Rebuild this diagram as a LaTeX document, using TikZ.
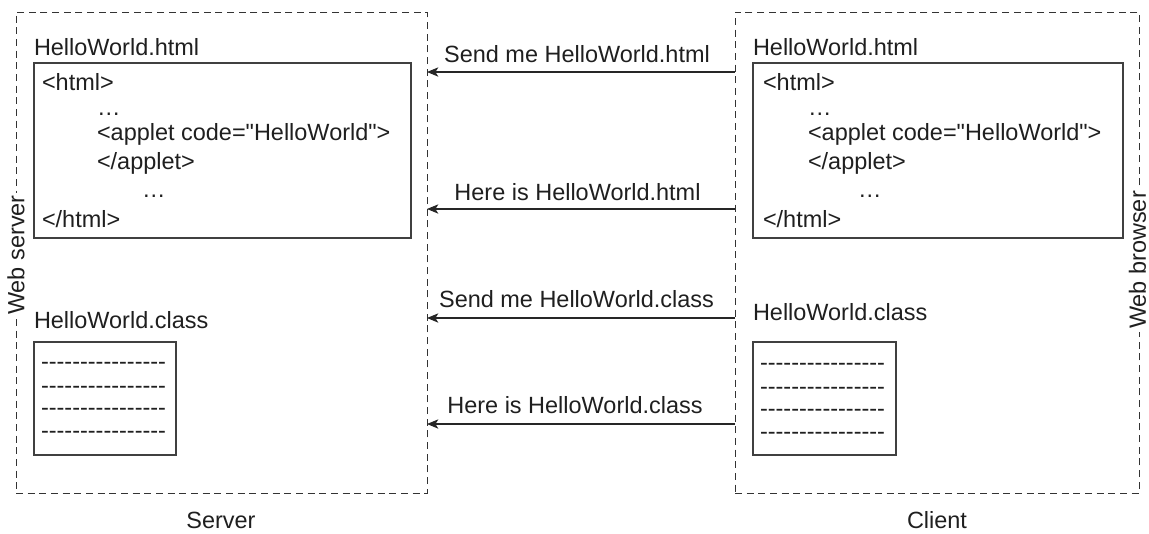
\documentclass[tikz,border=0pt]{standalone}
\usepackage{fontspec}
\setmainfont{Liberation Sans}[Ligatures=TeXOff]
\usetikzlibrary{arrows.meta}
\begin{document}
\begin{tikzpicture}[x=0.75pt,y=-0.75pt,
  every node/.style={font=\fontsize{17.6}{21}\selectfont, text=black!88, inner sep=0pt, outer sep=0pt},
  region/.style={draw=black!80, dash pattern=on 5.25pt off 3.5pt, line width=0.7pt},
  filebox/.style={draw=black!75, line width=0.9pt},
  msg/.style={draw=black!85, line width=0.8pt, -{Stealth[length=8.5pt,width=7pt,inset=2.2pt]}},
  txt/.style={anchor=base west},
  side/.style={rotate=90, fill=white, inner xsep=2pt, inner ysep=0.5pt}
]
\useasboundingbox (0,0) rectangle (1149,533);

% regions
\node[region, minimum width=308.25pt, minimum height=360.75pt] (srv) at (221.5,252.5) {};
\node[region, minimum width=303pt, minimum height=360.75pt] (cli) at (937,252.5) {};
\node[side] (wsl) at (16,255) {Web server};
\node[side] (wbl) at (1137.5,260) {Web browser};
\node[anchor=base] (srvlab) at (221,528.5) {Server};
\node[anchor=base] (clilab) at (937,528.5) {Client};

% server html file
\node[txt] (shtmlt) at (34,55) {HelloWorld.html};
\node[filebox, minimum width=282.75pt, minimum height=131.25pt] (shtml) at (222.5,150.5) {};
\node[txt] (s1) at (42,90) {<html>};
\node[txt] (s2) at (97,115) {\ldots};
\node[txt] (s3) at (97,140) {<applet code="HelloWorld">};
\node[txt] (s4) at (97,169) {</applet>};
\node[txt] (s5) at (142,197) {\ldots};
\node[txt] (s6) at (42,227) {</html>};

% client html file
\node[txt] (chtmlt) at (753,55) {HelloWorld.html};
\node[filebox, minimum width=277.5pt, minimum height=131.25pt] (chtml) at (938,150.5) {};
\node[txt] (c1) at (763,90) {<html>};
\node[txt] (c2) at (808,115) {\ldots};
\node[txt] (c3) at (808,140) {<applet code="HelloWorld">};
\node[txt] (c4) at (808,169) {</applet>};
\node[txt] (c5) at (858,197) {\ldots};
\node[txt] (c6) at (763,227) {</html>};

% server class file
\node[txt] (sclst) at (34,328) {HelloWorld.class};
\node[filebox, minimum width=106.5pt, minimum height=84.75pt] (scls) at (105,398.5) {};
\foreach \yy [count=\i] in {363,387,409,432} {
  \node[txt] (sd\i) at (41,\yy+6.5) {----------------};
}

% client class file
\node[txt] (cclst) at (753,320) {HelloWorld.class};
\node[filebox, minimum width=107.25pt, minimum height=84.75pt] (ccls) at (824.5,398.5) {};
\foreach \yy [count=\i] in {364,388,410,433} {
  \node[txt] (cd\i) at (760,\yy+6.5) {----------------};
}

% messages
\coordinate (m1) at (0,72);
\coordinate (m2) at (0,209);
\coordinate (m3) at (0,318);
\coordinate (m4) at (0,424);
\draw[msg] (cli.west |- m1) -- (srv.east |- m1);
\draw[msg] (cli.west |- m2) -- (srv.east |- m2);
\draw[msg] (cli.west |- m3) -- (srv.east |- m3);
\draw[msg] (cli.west |- m4) -- (srv.east |- m4);
\node[anchor=base] (l1) at (577,62) {Send me HelloWorld.html};
\node[anchor=base] (l2) at (577.5,200) {Here is HelloWorld.html};
\node[anchor=base] (l3) at (576.5,307) {Send me HelloWorld.class};
\node[anchor=base] (l4) at (575,413) {Here is HelloWorld.class};
\end{tikzpicture}
\end{document}
